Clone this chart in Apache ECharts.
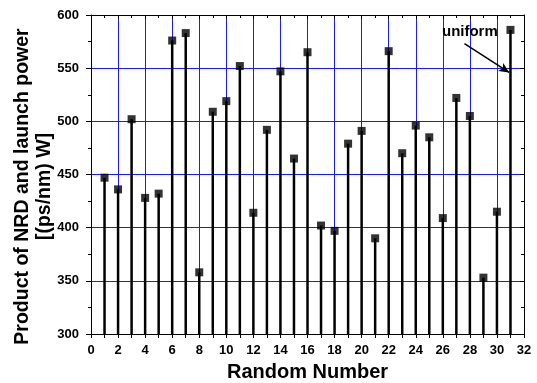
<!DOCTYPE html>
<html><head><meta charset="utf-8">
<script src="https://cdn.jsdelivr.net/npm/echarts@6/dist/echarts.min.js"></script>
<style>html,body{margin:0;padding:0;background:#fff}#c{width:537px;height:383px}</style>
</head><body><div id="c"></div>
<script>
const runs = [1,2,3,4,5,6,7,8,9,10,11,12,13,14,15,16,17,18,19,20,21,22,23,24,25,26,27,28,29,30,31];
const values = [447,436,502,428,432,576,583,358,509,519,552,414,492,547,465,565,402,397,479,491,390,566,470,496,485,409,522,505,353,415,586];
const xTicks = [0,2,4,6,8,10,12,14,16,18,20,22,24,26,28,30,32];
const yTicks = [300,350,400,450,500,550,600];
const annotation = {text:'uniform', textAt:[28.0,584.5], arrowFrom:[27.6,573], arrowTo:[30.9,546]};

const pts = runs.map((r,i)=>[r, values[i]]);
const font = 'Arial, "Liberation Sans", sans-serif';
const chart = echarts.init(document.getElementById('c'), null, {renderer:'canvas'});
const axisText = {color:'#000', fontFamily:font, fontWeight:'bold', fontSize:13};
chart.setOption({
  animation:false,
  grid:{left:91, right:13, top:15, bottom:49, containLabel:false, outerBoundsMode:'none'},
  xAxis:[{
    type:'value', min:xTicks[0], max:xTicks[xTicks.length-1], interval:2,
    axisLine:{onZero:false, lineStyle:{color:'#000', width:1}},
    axisTick:{inside:false, length:4, lineStyle:{color:'#000'}},
    minorTick:{show:true, splitNumber:2, length:4, lineStyle:{color:'#000'}},
    axisLabel:Object.assign({margin:10}, axisText),
    splitLine:{show:true, lineStyle:{color:'#1a1aff', width:1}},
    name:'Random Number', nameLocation:'middle', nameGap:28, nameMoveOverlap:false,
    nameTextStyle:{color:'#000', fontFamily:font, fontWeight:'bold', fontSize:20}
  },{
    type:'value', position:'top', min:xTicks[0], max:xTicks[xTicks.length-1], interval:2,
    axisLine:{show:true, onZero:false, lineStyle:{color:'#000'}},
    axisTick:{inside:true, length:4, lineStyle:{color:'#000'}},
    minorTick:{show:true, splitNumber:2, length:3, lineStyle:{color:'#000'}},
    axisLabel:{show:false}, splitLine:{show:false}
  }],
  yAxis:[{
    type:'value', min:yTicks[0], max:yTicks[yTicks.length-1], interval:50,
    axisLine:{show:true, onZero:false, lineStyle:{color:'#000'}},
    axisTick:{inside:false, length:5, lineStyle:{color:'#000'}},
    minorTick:{show:true, splitNumber:2, length:3, lineStyle:{color:'#000'}},
    axisLabel:Object.assign({margin:12}, axisText),
    splitLine:{show:true, lineStyle:{color:'#1a1aff', width:1}},
    name:'Product of NRD and launch power\n[(ps/nm) W]', nameLocation:'middle', nameGap:35, nameMoveOverlap:false,
    nameTextStyle:{color:'#000', fontFamily:font, fontWeight:'bold', fontSize:19.5, lineHeight:22, padding:[0,24,0,0]}
  },{
    type:'value', position:'right', min:yTicks[0], max:yTicks[yTicks.length-1], interval:50,
    axisLine:{show:true, onZero:false, lineStyle:{color:'#000'}},
    axisTick:{inside:true, length:4, lineStyle:{color:'#000'}},
    minorTick:{show:true, splitNumber:2, length:3, lineStyle:{color:'#000'}},
    axisLabel:{show:false}, splitLine:{show:false}
  }],
  series:[{
    type:'bar', data:pts, barWidth:2.5, itemStyle:{color:'#000'}, z:3
  },{
    type:'scatter', data:pts, symbol:'rect', symbolSize:8, itemStyle:{color:'#000'}, z:4,
    markLine:{
      silent:true, symbol:['none','arrow'], symbolSize:[7,10],
      lineStyle:{color:'#000', width:1.5, type:'solid'}, label:{show:false},
      data:[[{coord:annotation.arrowFrom},{coord:annotation.arrowTo}]]
    },
    markPoint:{
      silent:true, symbol:'rect', symbolSize:0,
      label:{show:true, position:'inside', formatter:annotation.text, color:'#000', fontFamily:font, fontWeight:'bold', fontSize:15},
      data:[{coord:annotation.textAt}]
    }
  }]
});
</script></body></html>
